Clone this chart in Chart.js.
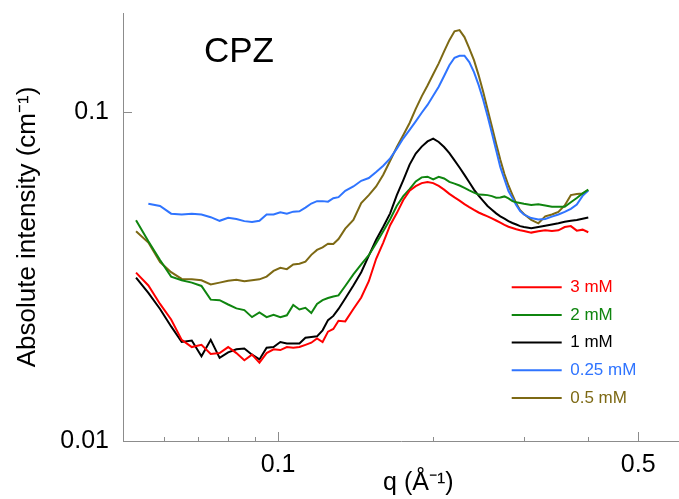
<!DOCTYPE html>
<html>
<head>
<meta charset="utf-8">
<script src="https://cdn.jsdelivr.net/npm/chart.js@4.4.1/dist/chart.umd.min.js"></script>
<style>
  html, body { margin: 0; padding: 0; background: #fff; }
  #wrap { width: 679px; height: 499px; position: relative; }
</style>
</head>
<body>
<div id="wrap"><canvas id="saxsChart"></canvas></div>
<script>
// scattering vector q (1/A)
const qValues = [
  0.053, 0.056, 0.059, 0.062, 0.065, 0.068, 0.071, 0.074, 0.077, 0.080, 0.083, 0.086, 0.089, 0.092,
  0.095, 0.098, 0.101, 0.104, 0.107, 0.110, 0.113, 0.116, 0.119, 0.122, 0.125, 0.128, 0.131,
  0.135, 0.140, 0.145, 0.150, 0.155, 0.160, 0.165, 0.170, 0.175, 0.180, 0.185, 0.190, 0.195, 0.200,
  0.205, 0.210, 0.215, 0.220, 0.225, 0.230, 0.235, 0.240, 0.245, 0.250, 0.255, 0.260, 0.265, 0.270,
  0.275, 0.280, 0.285, 0.290, 0.295, 0.300,
  0.31, 0.32, 0.33, 0.34, 0.35, 0.36, 0.37, 0.38, 0.39, 0.40
];

// absolute intensity (1/cm) per concentration
const int3mM = [
  0.0325, 0.0297, 0.0261, 0.0234, 0.0203, 0.0193, 0.0196, 0.0184, 0.0185, 0.0193, 0.0185, 0.0176, 0.0183, 0.0173,
  0.0185, 0.0190, 0.0189, 0.0193, 0.0192, 0.0193, 0.0196, 0.0199, 0.0205, 0.0200, 0.0215, 0.0219, 0.0232,
  0.0231, 0.0252, 0.0273, 0.0306, 0.0358, 0.0401, 0.0453, 0.0493, 0.0540, 0.0577, 0.0595, 0.0608, 0.0613, 0.0608,
  0.0596, 0.0581, 0.0564, 0.0550, 0.0538, 0.0525, 0.0514, 0.0504, 0.0495, 0.0488, 0.0482, 0.0475, 0.0468, 0.0461,
  0.0454, 0.0448, 0.0444, 0.0440, 0.0437, 0.0435,
  0.0430, 0.0434, 0.0437, 0.0435, 0.0437, 0.0447, 0.0450, 0.0436, 0.0439, 0.0431
];
const int2mM = [
  0.0469, 0.0405, 0.0355, 0.0316, 0.0308, 0.0303, 0.0296, 0.0269, 0.0268, 0.0260, 0.0253, 0.0250, 0.0238, 0.0246,
  0.0238, 0.0242, 0.0238, 0.0241, 0.0259, 0.0251, 0.0254, 0.0245, 0.0261, 0.0268, 0.0272, 0.0275, 0.0277,
  0.0296, 0.0321, 0.0344, 0.0367, 0.0399, 0.0434, 0.0472, 0.0519, 0.0555, 0.0583, 0.0615, 0.0633, 0.0636, 0.0624,
  0.0635, 0.0628, 0.0613, 0.0606, 0.0598, 0.0588, 0.0578, 0.0569, 0.0561, 0.0560, 0.0559, 0.0555, 0.0549, 0.0550,
  0.0554, 0.0546, 0.0536, 0.0532, 0.0529, 0.0526,
  0.0522, 0.0524, 0.0520, 0.0515, 0.0515, 0.0515, 0.0532, 0.0548, 0.0566, 0.0581
];
const int1mM = [
  0.0314, 0.0282, 0.0252, 0.0223, 0.0200, 0.0202, 0.0181, 0.0203, 0.0179, 0.0186, 0.0190, 0.0191, 0.0183, 0.0177,
  0.0192, 0.0193, 0.0200, 0.0198, 0.0198, 0.0198, 0.0206, 0.0207, 0.0208, 0.0217, 0.0233, 0.0240, 0.0252,
  0.0271, 0.0297, 0.0326, 0.0366, 0.0409, 0.0448, 0.0492, 0.0559, 0.0621, 0.0692, 0.0748, 0.0785, 0.0814, 0.0830,
  0.0811, 0.0783, 0.0750, 0.0713, 0.0678, 0.0644, 0.0612, 0.0581, 0.0557, 0.0537, 0.0518, 0.0505, 0.0492, 0.0482,
  0.0474, 0.0466, 0.0460, 0.0455, 0.0450, 0.0447,
  0.0443, 0.0447, 0.0451, 0.0455, 0.0459, 0.0464, 0.0467, 0.0470, 0.0474, 0.0478
];
const int025mM = [
  null, 0.0526, 0.0518, 0.0491, 0.0488, 0.0491, 0.0488, 0.0479, 0.0467, 0.0477, 0.0473, 0.0466, 0.0463, 0.0467,
  0.0488, 0.0488, 0.0496, 0.0491, 0.0498, 0.0499, 0.0512, 0.0527, 0.0536, 0.0536, 0.0534, 0.0547, 0.0551,
  0.0576, 0.0594, 0.0618, 0.0630, 0.0657, 0.0687, 0.0723, 0.0774, 0.0832, 0.0883, 0.0937, 0.0995, 0.1051, 0.1120,
  0.1193, 0.1287, 0.1387, 0.1462, 0.1483, 0.1483, 0.1419, 0.1323, 0.1209, 0.1092, 0.0973, 0.0863, 0.0765, 0.0680,
  0.0625, 0.0575, 0.0548, 0.0521, 0.0500, 0.0488,
  0.0476, 0.0471, 0.0473, 0.0481, 0.0488, 0.0497, 0.0508, 0.0523, 0.0556, 0.0577
];
const int05mM = [
  0.0434, 0.0401, 0.0350, 0.0326, 0.0311, 0.0310, 0.0308, 0.0299, 0.0303, 0.0307, 0.0309, 0.0306, 0.0308, 0.0310,
  0.0316, 0.0329, 0.0336, 0.0333, 0.0344, 0.0346, 0.0351, 0.0368, 0.0381, 0.0388, 0.0398, 0.0397, 0.0411,
  0.0442, 0.0470, 0.0529, 0.0559, 0.0594, 0.0645, 0.0711, 0.0783, 0.0851, 0.0926, 0.1022, 0.1116, 0.1204, 0.1302,
  0.1406, 0.1528, 0.1654, 0.1760, 0.1774, 0.1690, 0.1562, 0.1438, 0.1295, 0.1154, 0.1019, 0.0903, 0.0801, 0.0716,
  0.0648, 0.0598, 0.0560, 0.0527, 0.0503, 0.0490,
  0.0470, 0.0459, 0.0482, 0.0488, 0.0497, 0.0520, 0.0559, 0.0563, 0.0565, 0.0579
];

const seriesLabels = ['3 mM', '2 mM', '1 mM', '0.25 mM', '0.5 mM'];
const seriesColors = ['#ff0000', '#0f850f', '#000000', '#2f74ff', '#7d6914'];

const xTickValues = [0.1, 0.5];
const xMinorTickValues = [0.06, 0.07, 0.08, 0.09, 0.2, 0.3, 0.4];
const yTickValues = [0.01, 0.1];

const FONT = '"Liberation Sans", Arial, sans-serif';
const axisGrey = '#8c8c8c';

Chart.defaults.font.family = FONT;
Chart.defaults.color = '#000';

const seriesValues = [int3mM, int2mM, int1mM, int025mM, int05mM];

const datasets = seriesValues.map((vals, i) => ({
  label: seriesLabels[i],
  data: qValues.map((q, j) => ({ x: q, y: vals[j] })).filter((p) => p.y !== null),
  borderColor: seriesColors[i],
  backgroundColor: seriesColors[i],
  borderWidth: 2,
  pointRadius: 0,
  tension: 0,
  fill: false,
}));

// inward tick marks, the legend spot and the "CPZ" label
const decorPlugin = {
  id: 'decor',
  afterLayout(chart) {
    const lg = chart.legend;
    const area = chart.chartArea;
    lg.left = area.right - 178;
    lg.top = area.top + 255;
    lg.right = lg.left + lg.width;
    lg.bottom = lg.top + lg.height;
  },
  afterDraw(chart) {
    const { ctx, chartArea } = chart;
    const x = chart.scales.x;
    const y = chart.scales.y;
    ctx.save();
    ctx.strokeStyle = axisGrey;
    ctx.lineWidth = 1;
    ctx.beginPath();
    xMinorTickValues.forEach((v) => {
      const px = Math.round(x.getPixelForValue(v)) + 0.5;
      ctx.moveTo(px, x.top);
      ctx.lineTo(px, x.top - 4);
    });
    xTickValues.forEach((v) => {
      const px = Math.round(x.getPixelForValue(v)) + 0.5;
      ctx.moveTo(px, x.top);
      ctx.lineTo(px, x.top - 9);
    });
    yTickValues.forEach((v) => {
      const py = Math.round(y.getPixelForValue(v)) + 0.5;
      ctx.moveTo(y.right, py);
      ctx.lineTo(y.right + 9, py);
    });
    ctx.stroke();

    ctx.fillStyle = '#000';
    ctx.font = '35px ' + FONT;
    ctx.textAlign = 'center';
    ctx.textBaseline = 'alphabetic';
    ctx.fillText('CPZ', chartArea.left + 116, chartArea.top + 49);
    ctx.restore();
  },
};

new Chart(document.getElementById('saxsChart'), {
  type: 'line',
  data: { datasets },
  options: {
    responsive: true,
    maintainAspectRatio: false,
    animation: false,
    layout: { padding: { top: 13, right: 0, bottom: 0, left: 0 } },
    scales: {
      x: {
        type: 'logarithmic',
        min: 0.05,
        max: 0.6,
        afterBuildTicks: (scale) => {
          scale.ticks = xTickValues.map((v) => ({ value: v }));
        },
        afterFit: (scale) => {
          scale.height = 58;
          scale.paddingLeft = 0;
          scale.paddingRight = 0;
        },
        ticks: {
          callback: (v) => String(v),
          font: { size: 25 },
          color: '#000',
          padding: 9,
          maxRotation: 0,
          autoSkip: false,
        },
        grid: { display: false, drawTicks: false },
        border: { display: true, color: axisGrey, width: 1 },
        title: {
          display: true,
          text: '     q (Å⁻¹)',
          font: { size: 25 },
          color: '#000',
          padding: { top: 0, bottom: 1 },
        },
      },
      y: {
        type: 'logarithmic',
        min: 0.01,
        max: 0.2,
        afterBuildTicks: (scale) => {
          scale.ticks = yTickValues.map((v) => ({ value: v }));
        },
        afterFit: (scale) => {
          scale.width = 123;
          scale.paddingTop = 0;
          scale.paddingBottom = 0;
        },
        ticks: {
          callback: (v) => String(v),
          font: { size: 25 },
          color: '#000',
          padding: 14,
        },
        grid: { display: false, drawTicks: false },
        border: { display: true, color: axisGrey, width: 1 },
        title: {
          display: true,
          text: 'Absolute intensity (cm⁻¹)',
          font: { size: 26 },
          color: '#000',
          padding: { top: 12, bottom: 0 },
        },
      },
    },
    plugins: {
      tooltip: { enabled: false },
      legend: {
        position: 'chartArea',
        align: 'start',
        labels: {
          usePointStyle: true,
          pointStyle: 'line',
          pointStyleWidth: 50,
          font: { size: 17 },
          padding: 10.7,
          generateLabels: (chart) =>
            Chart.defaults.plugins.legend.labels.generateLabels(chart).map((item) => ({
              ...item,
              fontColor: seriesColors[item.datasetIndex],
            })),
        },
      },
    },
  },
  plugins: [decorPlugin],
});
</script>
</body>
</html>
